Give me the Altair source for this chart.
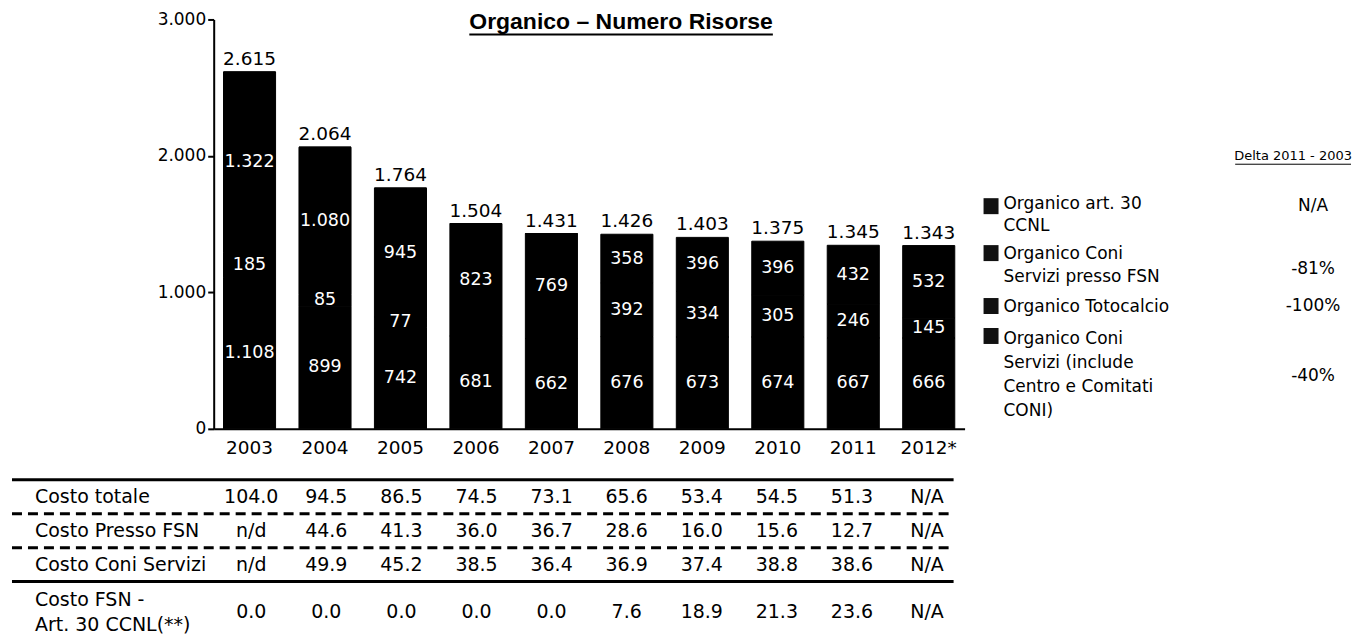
import altair as alt
import pandas as pd

# ---------------- data ----------------
years = ["2003", "2004", "2005", "2006", "2007", "2008", "2009", "2010", "2011", "2012*"]

series_names = [
    "Organico Coni Servizi (include Centro e Comitati CONI)",
    "Organico Totocalcio",
    "Organico Coni Servizi presso FSN",
    "Organico art. 30 CCNL",
]
coni_servizi = [1108, 899, 742, 681, 662, 676, 673, 674, 667, 666]
totocalcio = [185, 85, 77, 0, 0, 0, 0, 0, 0, 0]
presso_fsn = [1322, 1080, 945, 823, 769, 392, 334, 305, 246, 145]
art30 = [0, 0, 0, 0, 0, 358, 396, 396, 432, 532]
totals = [2615, 2064, 1764, 1504, 1431, 1426, 1403, 1375, 1345, 1343]

legend_lines = [
    ["Organico art. 30", "CCNL"],
    ["Organico Coni", "Servizi presso FSN"],
    ["Organico Totocalcio"],
    ["Organico Coni", "\u00a0Servizi (include", "\u00a0Centro e Comitati", "\u00a0CONI)"],
]
legend_deltas = ["N/A", "-81%", "-100%", "-40%"]
delta_header = "Delta 2011 - 2003"
chart_title = "Organico \u2013 Numero Risorse"

table_rows = ["Costo totale", "Costo Presso FSN", "Costo Coni Servizi", "Costo FSN - Art. 30 CCNL(**)"]
costo_totale = ["104.0", "94.5", "86.5", "74.5", "73.1", "65.6", "53.4", "54.5", "51.3", "N/A"]
costo_presso_fsn = ["n/d", "44.6", "41.3", "36.0", "36.7", "28.6", "16.0", "15.6", "12.7", "N/A"]
costo_coni_servizi = ["n/d", "49.9", "45.2", "38.5", "36.4", "36.9", "37.4", "38.8", "38.6", "N/A"]
costo_fsn_art30 = ["0.0", "0.0", "0.0", "0.0", "0.0", "7.6", "18.9", "21.3", "23.6", "N/A"]
row4_label_lines = ["Costo FSN -", "Art. 30 CCNL(**)"]


def it_fmt(v):
    return f"{v:,}".replace(",", ".")


rows = []
for rank, (name, vals) in enumerate(zip(series_names, [coni_servizi, totocalcio, presso_fsn, art30])):
    for y, v in zip(years, vals):
        rows.append({"year": y, "series": name, "value": v, "rank": rank, "label": it_fmt(v)})
df = pd.DataFrame(rows)
df_tot = pd.DataFrame({"year": years, "total": totals, "tlabel": [it_fmt(t) for t in totals]})

trows = []
for name, vals in zip(table_rows, [costo_totale, costo_presso_fsn, costo_coni_servizi, costo_fsn_art30]):
    for y, v in zip(years, vals):
        trows.append({"row": name, "year": y, "val": v})
tdf = pd.DataFrame(trows)
one = pd.DataFrame({"k": [0]})

# ---------------- layout ----------------
W = 752
H = 410
FONT = "DejaVu Sans"
XSCALE = dict(paddingInner=0.31, paddingOuter=0.13)

x_axis = alt.Axis(labelAngle=0, ticks=False, tickSize=0, labelPadding=10, labelFontSize=18.5,
                  labelColor="black", labelFont=FONT, domainColor="black", domainWidth=2)


def xenc():
    return alt.X("year:N", sort=years, title=None, scale=alt.Scale(**XSCALE), axis=x_axis)


yscale = alt.Scale(domain=[0, 3000], nice=False)
y_axis = alt.Axis(values=[0, 1000, 2000, 3000], grid=False,
                  labelExpr="replace(format(datum.value, ','), ',', '.')",
                  tickSize=6, tickWidth=2, tickColor="black", domainColor="black",
                  domainWidth=2, labelFontSize=17, labelPadding=2, labelColor="black",
                  labelFont=FONT)

bars = alt.Chart(df).mark_bar(color="#000000", stroke="#000000", strokeWidth=1).encode(
    x=xenc(),
    y=alt.Y("value:Q", stack="zero", scale=yscale, title=None, axis=y_axis),
    order=alt.Order("rank:Q", sort="ascending"),
)

seg = alt.Chart(df).transform_filter("datum.value > 0").transform_stack(
    stack="value", groupby=["year"], sort=[alt.SortField("rank", order="ascending")], as_=["y0", "y1"]
).transform_calculate(mid="(datum.y0 + datum.y1) / 2").mark_text(
    color="white", fontSize=17.5, baseline="middle", font=FONT
).encode(x=xenc(), y=alt.Y("mid:Q", scale=yscale, title=None, axis=y_axis), text="label:N")

tot = alt.Chart(df_tot).mark_text(baseline="bottom", dy=-3, fontSize=18.5, font=FONT, color="black").encode(
    x=xenc(), y=alt.Y("total:Q", scale=yscale, title=None, axis=y_axis), text="tlabel:N"
)

title_txt = alt.Chart(one).mark_text(
    text=chart_title, font="Liberation Sans", fontWeight="bold", fontSize=23,
    baseline="alphabetic", align="center", color="black"
).encode(x=alt.value(408), y=alt.value(10))
title_ul = alt.Chart(one).mark_rule(color="black", strokeWidth=2).encode(
    x=alt.value(256), x2=alt.value(560), y=alt.value(15))

layers = [bars, seg, tot, title_txt, title_ul]

# legend
hdr = alt.Chart(one).mark_text(text=delta_header, fontSize=13, font=FONT, align="center",
                               baseline="middle", color="black").encode(x=alt.value(1081), y=alt.value(137))
hdr_ul = alt.Chart(one).mark_rule(color="black", strokeWidth=1).encode(
    x=alt.value(1023), x2=alt.value(1139), y=alt.value(145))
layers += [hdr, hdr_ul]

sq_centers = [187, 234, 287, 317]
txt_tops = [176.5, 226.5, 279.5, 312.5]
line_heights = [22, 23, 23, 24]
delta_centers = [187, 250, 287, 357]
for i in range(4):
    layers.append(alt.Chart(one).mark_rect(color="#111111").encode(
        x=alt.value(771), x2=alt.value(786), y=alt.value(sq_centers[i] - 8), y2=alt.value(sq_centers[i] + 8)))
    layers.append(alt.Chart(one).mark_text(
        text=legend_lines[i], fontSize=17, font=FONT, align="left", baseline="top",
        lineHeight=line_heights[i], color="black").encode(x=alt.value(791), y=alt.value(txt_tops[i])))
    layers.append(alt.Chart(one).mark_text(
        text=legend_deltas[i], fontSize=17, font=FONT, align="center", baseline="middle",
        color="black").encode(x=alt.value(1101), y=alt.value(delta_centers[i])))

top = alt.layer(*layers).properties(width=W, height=H)

# ---------------- table ----------------
def tx():
    return alt.X("year:N", sort=years, title=None, scale=alt.Scale(**XSCALE), axis=None)


tscale = alt.Scale(domain=table_rows, paddingInner=0, paddingOuter=0)
ty = alt.Y("row:N", sort=table_rows, title=None, scale=tscale, axis=None)
ty0 = alt.Y("row:N", sort=table_rows, title=None, bandPosition=0, scale=tscale, axis=None)

last_row = table_rows[3]
tvals = alt.Chart(tdf).transform_filter(alt.datum.row != last_row).mark_text(
    fontSize=19, font=FONT, baseline="middle", color="black").encode(x=tx(), y=ty, text="val:N")
tvals4 = alt.Chart(tdf).transform_filter(alt.datum.row == last_row).mark_text(
    fontSize=19, font=FONT, baseline="middle", dy=13, color="black").encode(x=tx(), y=ty, text="val:N")

rdf = pd.DataFrame({"row": table_rows})
rlabels = alt.Chart(rdf).transform_filter(alt.datum.row != last_row).mark_text(
    fontSize=19, font=FONT, align="left", baseline="middle", color="black").encode(
    x=alt.value(-179), y=ty, text="row:N")
rlabel4 = alt.Chart(rdf).transform_filter(alt.datum.row == last_row).mark_text(
    text=row4_label_lines, fontSize=19, font=FONT, align="left", baseline="middle",
    lineHeight=25, dy=1, color="black").encode(x=alt.value(-179), y=ty)

solid_rows = [table_rows[0], table_rows[3]]
dashed_rows = [table_rows[1], table_rows[2]]
solid = alt.Chart(rdf).transform_filter(alt.FieldOneOfPredicate(field="row", oneOf=solid_rows)).mark_rule(
    color="black", strokeWidth=3).encode(x=alt.value(-202), x2=alt.value(741), y=ty0)
dashed = alt.Chart(rdf).transform_filter(alt.FieldOneOfPredicate(field="row", oneOf=dashed_rows)).mark_rule(
    color="black", strokeWidth=3, strokeDash=[10, 6]).encode(x=alt.value(-202), x2=alt.value(741), y=ty0)

table = alt.layer(solid, dashed, tvals, tvals4, rlabels, rlabel4).properties(width=W, height=136)

chart = alt.vconcat(top, table, spacing=20).properties(
    padding={"left": 2, "top": 2, "right": 0, "bottom": 0}
).configure(font=FONT).configure_view(strokeWidth=0, stroke="transparent")

chart.save("out.html", embed_options={"renderer": "svg", "actions": False})
